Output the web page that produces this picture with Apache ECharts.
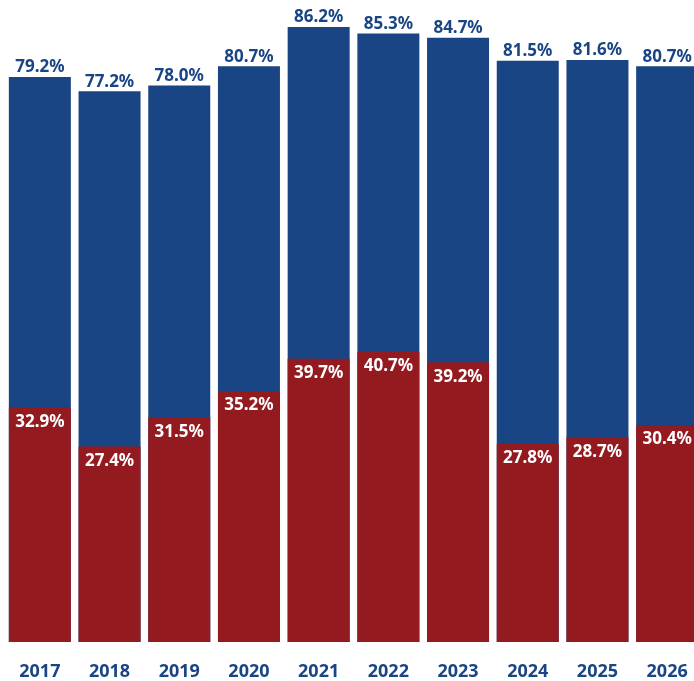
<!DOCTYPE html>
<html>
<head>
<meta charset="utf-8">
<script src="https://cdn.jsdelivr.net/npm/echarts@6/dist/echarts.min.js"></script>
<style>
  html, body { margin: 0; padding: 0; background: #fff; overflow: hidden; }
  /* the last column runs a few pixels past the right edge of the page */
  #chart { width: 702px; height: 681px; }
</style>
</head>
<body>
<div id="chart"></div>
<script>
const years = ['2017', '2018', '2019', '2020', '2021', '2022', '2023', '2024', '2025', '2026'];
const totalShare = [79.2, 77.2, 78.0, 80.7, 86.2, 85.3, 84.7, 81.5, 81.6, 80.7];
const partShare = [32.9, 27.4, 31.5, 35.2, 39.7, 40.7, 39.2, 27.8, 28.7, 30.4];

const BLUE = '#1a4584';
const RED = '#931a1f';
const FONT = '"Noto Sans", "Open Sans", sans-serif';

const chart = echarts.init(document.getElementById('chart'));
chart.setOption({
  animation: false,
  grid: { left: 5, top: 0, right: 0, bottom: 39, containLabel: false },
  xAxis: {
    type: 'category',
    data: years,
    axisLine: { show: false },
    axisTick: { show: false },
    axisLabel: {
      color: BLUE,
      fontFamily: FONT,
      fontWeight: 'bold',
      fontSize: 18,
      margin: 21
    }
  },
  yAxis: {
    type: 'value',
    min: 0,
    max: 90,
    show: false,
    splitLine: { show: false }
  },
  series: [
    {
      type: 'bar',
      data: totalShare,
      barWidth: 62,
      barGap: '-100%',
      itemStyle: { color: BLUE },
      label: {
        show: true,
        position: 'top',
        distance: 1,
        color: BLUE,
        fontFamily: FONT,
        fontWeight: 'bold',
        fontSize: 17,
        formatter: p => p.value.toFixed(1) + '%'
      }
    },
    {
      type: 'bar',
      data: partShare,
      barWidth: 62,
      itemStyle: { color: RED },
      label: {
        show: true,
        position: 'insideTop',
        distance: 6,
        color: '#ffffff',
        fontFamily: FONT,
        fontWeight: 'bold',
        fontSize: 17,
        formatter: p => p.value.toFixed(1) + '%'
      }
    }
  ]
});
</script>
</body>
</html>
